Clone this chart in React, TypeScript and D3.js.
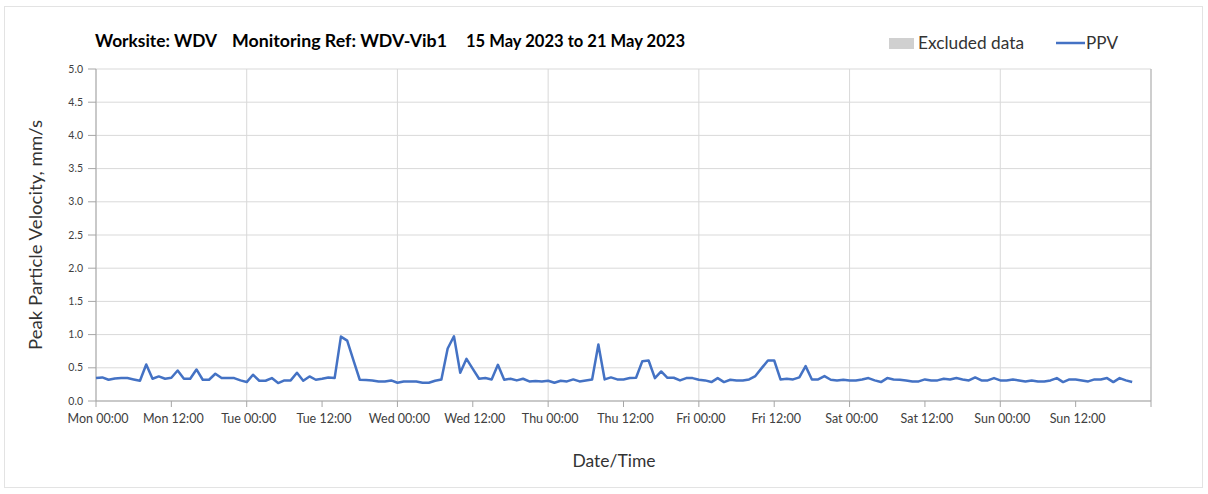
import React from "react";
import * as d3 from "d3";

const titleParts = ["Worksite: WDV", "Monitoring Ref: WDV-Vib1", "15 May 2023 to 21 May 2023"];
const legendLabels = ["Excluded data", "PPV"];
const yAxisTitle = "Peak Particle Velocity, mm/s";
const xAxisTitle = "Date/Time";
const yTicks = [0, 0.5, 1, 1.5, 2, 2.5, 3, 3.5, 4, 4.5, 5];
const startTime = new Date(2023, 4, 15, 0, 0);
const endTime = new Date(2023, 4, 22, 0, 0);
const intervalHours = 1;

// hourly PPV readings (mm/s) from Mon 15 May 00:00
const ppv = [
  0.345, 0.355, 0.32, 0.34, 0.345, 0.345, 0.325, 0.305, 0.55, 0.335, 0.37, 0.335,
  0.35, 0.46, 0.335, 0.335, 0.475, 0.32, 0.32, 0.41, 0.345, 0.345, 0.345, 0.31,
  0.285, 0.395, 0.305, 0.305, 0.345, 0.27, 0.31, 0.31, 0.425, 0.305, 0.37, 0.32,
  0.335, 0.355, 0.345, 0.97, 0.91, 0.61, 0.32, 0.315, 0.31, 0.295, 0.295, 0.31,
  0.275, 0.295, 0.295, 0.295, 0.275, 0.275, 0.305, 0.325, 0.79, 0.975, 0.425, 0.635,
  0.485, 0.335, 0.345, 0.325, 0.545, 0.32, 0.335, 0.31, 0.335, 0.295, 0.3, 0.295,
  0.305, 0.275, 0.305, 0.295, 0.325, 0.295, 0.31, 0.325, 0.85, 0.325, 0.355, 0.325,
  0.325, 0.345, 0.35, 0.6, 0.61, 0.345, 0.445, 0.35, 0.35, 0.31, 0.345, 0.345,
  0.32, 0.31, 0.285, 0.345, 0.285, 0.32, 0.31, 0.31, 0.325, 0.375, 0.495, 0.61,
  0.61, 0.325, 0.335, 0.325, 0.355, 0.525, 0.325, 0.325, 0.375, 0.32, 0.31, 0.32,
  0.31, 0.31, 0.325, 0.345, 0.31, 0.285, 0.345, 0.325, 0.32, 0.31, 0.295, 0.295,
  0.325, 0.31, 0.31, 0.335, 0.325, 0.345, 0.325, 0.31, 0.355, 0.31, 0.31, 0.345,
  0.31, 0.31, 0.325, 0.31, 0.295, 0.31, 0.295, 0.295, 0.31, 0.345, 0.285, 0.325,
  0.325, 0.31, 0.295, 0.325, 0.325, 0.345, 0.285, 0.345, 0.31, 0.285,
];

const FONT = "Lato, 'Open Sans', sans-serif";

export default function App() {
  const W = 1208, H = 494;
  const left = 96, right = 1151, top = 69, bottom = 401;
  const x = d3.scaleTime().domain([startTime, endTime]).range([left, right]);
  const y = d3.scaleLinear().domain([0, 5]).range([bottom, top]);
  const data = ppv.map((v, i) => ({ t: d3.timeHour.offset(startTime, i * intervalHours), v }));
  const line = d3.line<{ t: Date; v: number }>().x(d => x(d.t)).y(d => y(d.v));
  const dayTicks = d3.timeDay.range(startTime, d3.timeHour.offset(endTime, 1));
  const halfDayTicks = d3.timeHour.every(12)!.range(startTime, d3.timeHour.offset(endTime, 1));
  const labelTicks = halfDayTicks.filter(t => t < endTime);
  const fmt = d3.timeFormat("%a %H:%M");
  const fmtY = d3.format(".1f");

  return (
    <svg width={W} height={H} style={{ position: "absolute", left: 0, top: 0, background: "#fff" }}>
      <rect x={4.5} y={6.5} width={1198} height={481} fill="#fff" stroke="#e3e3e3" />
      {/* horizontal grid */}
      {yTicks.map(t => (
        <line key={"hg" + t} x1={left} x2={right} y1={y(t)} y2={y(t)} stroke="#d9d9d9" strokeWidth={1} />
      ))}
      {/* vertical grid at day boundaries */}
      {dayTicks.map(t => (
        <line key={"vg" + +t} x1={x(t)} x2={x(t)} y1={top} y2={bottom} stroke="#d9d9d9" strokeWidth={1} />
      ))}
      {/* right border */}
      <line x1={right} x2={right} y1={top} y2={bottom} stroke="#b0b0b0" strokeWidth={1} />
      {/* axes */}
      <line x1={left} x2={left} y1={top} y2={bottom} stroke="#a6a6a6" strokeWidth={1} />
      <line x1={left} x2={right} y1={bottom} y2={bottom} stroke="#a6a6a6" strokeWidth={1} />
      {yTicks.map(t => (
        <g key={"yt" + t}>
          <line x1={left - 8} x2={left} y1={y(t)} y2={y(t)} stroke="#a6a6a6" />
          <text x={left - 13} y={y(t) + 3.5} textAnchor="end" fontFamily={FONT} fontSize={10.5} fill="#404040">
            {fmtY(t)}
          </text>
        </g>
      ))}
      {halfDayTicks.map(t => (
        <line key={"xt" + +t} x1={x(t)} x2={x(t)} y1={bottom} y2={bottom + 6} stroke="#a6a6a6" />
      ))}
      {labelTicks.map(t => (
        <text key={"xl" + +t} x={x(t) + 2} y={bottom + 22} textAnchor="middle" fontFamily={FONT} fontSize={12.5} fill="#404040">
          {fmt(t)}
        </text>
      ))}
      {/* data line */}
      <path d={line(data) || ""} fill="none" stroke="#4472c4" strokeWidth={2.5} strokeLinejoin="round" />
      {/* titles */}
      <text x={95} y={47} fontFamily={FONT} fontSize={16.5} fontWeight="bold" fill="#000" textLength={122} lengthAdjust="spacingAndGlyphs">{titleParts[0]}</text>
      <text x={232} y={47} fontFamily={FONT} fontSize={16.5} fontWeight="bold" fill="#000" textLength={215} lengthAdjust="spacingAndGlyphs">{titleParts[1]}</text>
      <text x={466} y={47} fontFamily={FONT} fontSize={16.5} fontWeight="bold" fill="#000" textLength={219} lengthAdjust="spacingAndGlyphs">{titleParts[2]}</text>
      <rect x={889} y={38} width={25} height={11} fill="#d0d0d0" />
      <text x={918} y={49} fontFamily={FONT} fontSize={16.5} fill="#333" textLength={106} lengthAdjust="spacingAndGlyphs">{legendLabels[0]}</text>
      <line x1={1056} x2={1085} y1={43} y2={43} stroke="#4472c4" strokeWidth={2.5} />
      <text x={1086} y={49} fontFamily={FONT} fontSize={16.5} fill="#333" textLength={32} lengthAdjust="spacingAndGlyphs">{legendLabels[1]}</text>
      <text transform={`translate(42,${(top + bottom) / 2}) rotate(-90)`} textAnchor="middle" fontFamily={FONT} fontSize={16.5} fill="#333" textLength={230} lengthAdjust="spacingAndGlyphs">
        {yAxisTitle}
      </text>
      <text x={614} y={467} textAnchor="middle" fontFamily={FONT} fontSize={17} fill="#333" textLength={83} lengthAdjust="spacingAndGlyphs">{xAxisTitle}</text>
    </svg>
  );
}
